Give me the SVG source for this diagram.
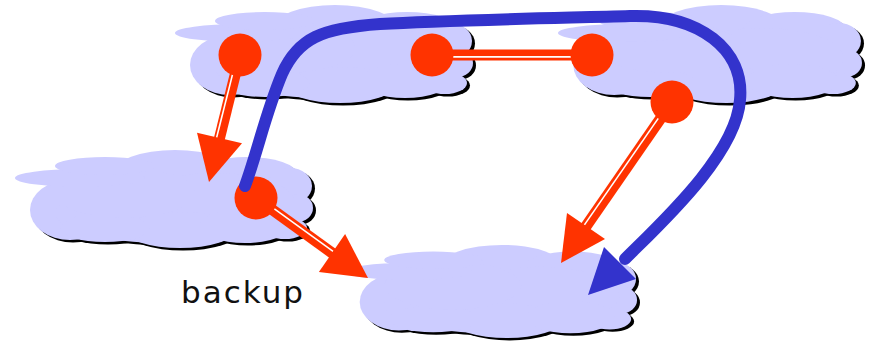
<svg xmlns="http://www.w3.org/2000/svg" xmlns:xlink="http://www.w3.org/1999/xlink" width="872" height="344" viewBox="0 0 872 344">
  <style>
    .cloud-shadow { fill: #000000; }
    .cloud-body { fill: #ccccff; }
    .router { fill: #ff3300; }
    .link { stroke: #ff3300; stroke-width: 11; fill: none; }
    .link-gap { stroke: #ffffff; stroke-width: 1.6; fill: none; }
    .head { fill: #ff3300; }
    .path-blue { stroke: #3333cc; stroke-width: 12; fill: none; stroke-linecap: round; }
    .head-blue { fill: #3333cc; }
    .label { font-family: "DejaVu Sans", "Liberation Sans", sans-serif; font-size: 31px; letter-spacing: 2px; fill: #111111; }
  </style>
  <defs>
    <!-- main cloud body built from overlapping ellipses, local box ~300x100 -->
    <g id="cloud-main">
      <ellipse cx="160" cy="25" rx="62" ry="23"/>
      <ellipse cx="232" cy="26" rx="50" ry="17"/>
      <ellipse cx="275" cy="38" rx="22" ry="18"/>
      <ellipse cx="282" cy="60" rx="16" ry="14"/>
      <ellipse cx="270" cy="80" rx="22" ry="11"/>
      <ellipse cx="55" cy="62" rx="40" ry="30"/>
      <ellipse cx="150" cy="65" rx="110" ry="30"/>
      <ellipse cx="200" cy="55" rx="80" ry="30"/>
      <ellipse cx="165" cy="82" rx="55" ry="18"/>
      <ellipse cx="230" cy="78" rx="45" ry="17"/>
      <ellipse cx="90" cy="80" rx="45" ry="14"/>
      <ellipse cx="110" cy="45" rx="70" ry="25"/>
    </g>
    <!-- thin wisps on the upper left edge -->
    <g id="cloud-wisp">
      <ellipse cx="65" cy="30" rx="65" ry="9"/>
      <ellipse cx="90" cy="18" rx="50" ry="9"/>
    </g>
  </defs>

  <!-- network clouds -->
  <g id="cloud-top-left" transform="translate(175,3)">
    <use xlink:href="#cloud-main" href="#cloud-main" class="cloud-shadow" transform="translate(3,2.5)"/>
    <use xlink:href="#cloud-main" href="#cloud-main" class="cloud-body"/>
    <use xlink:href="#cloud-wisp" href="#cloud-wisp" class="cloud-body"/>
  </g>
  <g id="cloud-top-right" transform="translate(558,3) scale(1.02,1)">
    <use xlink:href="#cloud-main" href="#cloud-main" class="cloud-shadow" transform="translate(3,2.5)"/>
    <use xlink:href="#cloud-main" href="#cloud-main" class="cloud-body"/>
    <use xlink:href="#cloud-wisp" href="#cloud-wisp" class="cloud-body"/>
  </g>
  <g id="cloud-left" transform="translate(15,148)">
    <use xlink:href="#cloud-main" href="#cloud-main" class="cloud-shadow" transform="translate(3,2.5)"/>
    <use xlink:href="#cloud-main" href="#cloud-main" class="cloud-body"/>
    <use xlink:href="#cloud-wisp" href="#cloud-wisp" class="cloud-body"/>
  </g>
  <g id="cloud-bottom" transform="translate(345,243) scale(0.98,0.95)">
    <use xlink:href="#cloud-main" href="#cloud-main" class="cloud-shadow" transform="translate(3,2.5)"/>
    <use xlink:href="#cloud-main" href="#cloud-main" class="cloud-body"/>
    <use xlink:href="#cloud-wisp" href="#cloud-wisp" class="cloud-body"/>
  </g>

  <!-- red links with a thin white gap line -->
  <g id="connectors">
    <g id="link-a-left">
      <line class="link" x1="240" y1="55" x2="218.8" y2="141"/>
      <line class="link-gap" x1="237.6" y1="54.4" x2="216.5" y2="138"/>
      <polygon class="head" points="197,132.7 242,143.3 209,182"/>
    </g>
    <g id="link-b-c">
      <line class="link" x1="432" y1="55" x2="592" y2="55"/>
      <line class="link-gap" x1="450" y1="56.9" x2="574" y2="56.9"/>
    </g>
    <g id="link-d-bottom">
      <line class="link" x1="672" y1="102" x2="584.5" y2="228.5"/>
      <line class="link-gap" x1="670.4" y1="100.9" x2="584.4" y2="224.9"/>
      <polygon class="head" points="605,239 567,213 561,263"/>
    </g>
    <g id="link-e-bottom">
      <line class="link" x1="256" y1="198" x2="334.5" y2="254.7"/>
      <line class="link-gap" x1="257.1" y1="196.4" x2="333.1" y2="251.4"/>
      <polygon class="head" points="318.9,271.9 345.1,234.1 368,278"/>
    </g>
  </g>

  <!-- routers -->
  <g id="router-a"><circle class="router" cx="240" cy="55" r="21.5"/></g>
  <g id="router-b"><circle class="router" cx="432" cy="55" r="21.5"/></g>
  <g id="router-c"><circle class="router" cx="592" cy="55" r="21.5"/></g>
  <g id="router-d"><circle class="router" cx="672" cy="102" r="21.5"/></g>
  <g id="router-e"><circle class="router" cx="256" cy="198" r="21.5"/></g>

  <!-- blue path around the top -->
  <g id="blue-route">
    <path class="path-blue" d="M245,186 C258,150 266,112 282,74 C298,38 322,28 380,24 C450,20 560,18 630,16 C700,14 745,50 740,100 C736,155 660,224 625,259"/>
    <polygon class="head-blue" points="636,279 604,247 588,295"/>
  </g>

  <g id="label-backup">
    <text class="label" x="181" y="303">backup</text>
  </g>
</svg>
